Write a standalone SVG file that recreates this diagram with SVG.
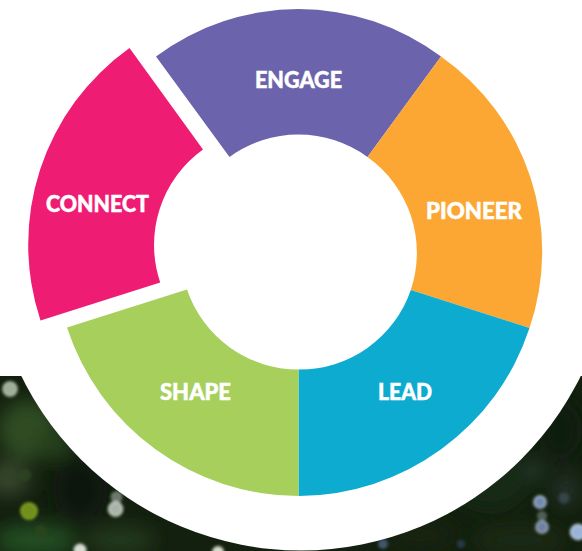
<svg xmlns="http://www.w3.org/2000/svg" width="582" height="551" viewBox="0 0 582 551">
<style>
.seg{stroke:none}
.label{font-family:Lato,"Noto Sans","Liberation Sans",sans-serif;font-weight:900;font-size:22.5px;fill:#fff;stroke:#fff;stroke-width:.5px}
</style>
<defs>
<clipPath id="photoClip"><rect x="0" y="376" width="582" height="175"/></clipPath>
<filter id="blurWide" x="-60%" y="-60%" width="220%" height="220%"><feGaussianBlur stdDeviation="9"/></filter>
<filter id="blurSpot" x="-50%" y="-50%" width="200%" height="200%"><feGaussianBlur stdDeviation="1.700"/></filter>
</defs>
<rect width="582" height="551" fill="#fff"/>
<g id="photo" clip-path="url(#photoClip)">
<rect x="0" y="376" width="582" height="175" fill="#13200f"/>
<g filter="url(#blurWide)">
<ellipse cx="28" cy="430" rx="30" ry="30" fill="#2f4c24"/>
<ellipse cx="8" cy="478" rx="22" ry="18" fill="#34452c"/>
<ellipse cx="35" cy="540" rx="42" ry="16" fill="#234e22"/>
<ellipse cx="80" cy="490" rx="28" ry="32" fill="#0b1608"/>
<ellipse cx="120" cy="540" rx="36" ry="14" fill="#24391c"/>
<ellipse cx="55" cy="445" rx="18" ry="14" fill="#27401f"/>
<ellipse cx="490" cy="480" rx="38" ry="28" fill="#182a14"/>
<ellipse cx="560" cy="430" rx="22" ry="30" fill="#101a10"/>
<ellipse cx="420" cy="535" rx="38" ry="16" fill="#16240f"/>
<ellipse cx="520" cy="540" rx="46" ry="12" fill="#1a2a14"/>
<ellipse cx="566" cy="490" rx="10" ry="16" fill="#28352f"/>
<ellipse cx="534" cy="470" rx="10" ry="10" fill="#263a2e"/>
</g>
<g filter="url(#blurSpot)">
<circle cx="10" cy="389" r="7" fill="#9eae98" stroke="#b9c6b2" stroke-width="1.500"/>
<circle cx="29" cy="511" r="8" fill="#6f8f1c" stroke="#90b226" stroke-width="1.500"/>
<circle cx="41" cy="531" r="6" fill="#2a4518" fill-opacity=".8"/>
<circle cx="25" cy="475" r="6" fill="#2d4522" fill-opacity=".8"/>
<circle cx="116.500" cy="497" r="6" fill="#6c7a6c"/>
<circle cx="115.500" cy="509" r="7" fill="#a9b4a8" stroke="#d2d8ce" stroke-width="1.500"/>
<circle cx="80" cy="550" r="6.500" fill="#d6dcd2"/>
<circle cx="218" cy="552" r="6" fill="#d2dac8"/>
<circle cx="383" cy="544" r="5" fill="#3f566e"/>
<circle cx="540" cy="502" r="6" fill="#7188b0" stroke="#b8c6da" stroke-width="1.500"/>
<circle cx="542" cy="516" r="5" fill="#4f6056"/>
<circle cx="542" cy="527" r="6" fill="#6f80a2" stroke="#a6b2c6" stroke-width="1.500"/>
<circle cx="578" cy="532" r="7.500" fill="#9ab4d8" stroke="#c4d6ea" stroke-width="1.500"/>
<circle cx="564" cy="498" r="5.500" fill="#344446"/>
<circle cx="461" cy="544" r="4" fill="#263848"/>
</g>
</g>
<circle id="whiteDisc" cx="301" cy="239" r="311.500" fill="#fff"/>
<g id="connectors"/>
<g id="engage">
<path class="seg" fill="#6b63ab" d="M156 56.500A238 238 0 0 1 441 56.500L367.500 157A117.500 117.500 0 0 0 229.500 157Z"/>
<text class="label" x="298.500" y="88" text-anchor="middle" textLength="87" lengthAdjust="spacingAndGlyphs">ENGAGE</text>
</g>
<g id="pioneer">
<path class="seg" fill="#fca733" d="M441 56.500A238 238 0 0 1 529.500 328L410.800 290A117.500 117.500 0 0 0 367.500 157Z"/>
<text class="label" x="474" y="219" text-anchor="middle" textLength="96" lengthAdjust="spacingAndGlyphs">PIONEER</text>
</g>
<g id="lead">
<path class="seg" fill="#0dabcf" d="M529.500 328A244 244 0 0 1 298.500 496L298.500 369.500A117.500 117.500 0 0 0 410.800 290Z"/>
<text class="label" x="405" y="400" text-anchor="middle" textLength="54" lengthAdjust="spacingAndGlyphs">LEAD</text>
</g>
<g id="shape">
<path class="seg" fill="#a6cf5c" d="M298.500 496A244 244 0 0 1 67 327.500L187 289.500A117.500 117.500 0 0 0 298.500 369.500Z"/>
<text class="label" x="195.500" y="400" text-anchor="middle" textLength="71" lengthAdjust="spacingAndGlyphs">SHAPE</text>
</g>
<g id="connect">
<path class="seg" fill="#ef1c74" d="M129.500 48A241 241 0 0 0 40.500 320.400L160.200 282.500A117.500 117.500 0 0 1 203 149.500Z"/>
<text class="label" x="97.500" y="212" text-anchor="middle" textLength="103" lengthAdjust="spacingAndGlyphs">CONNECT</text>
</g>
</svg>
